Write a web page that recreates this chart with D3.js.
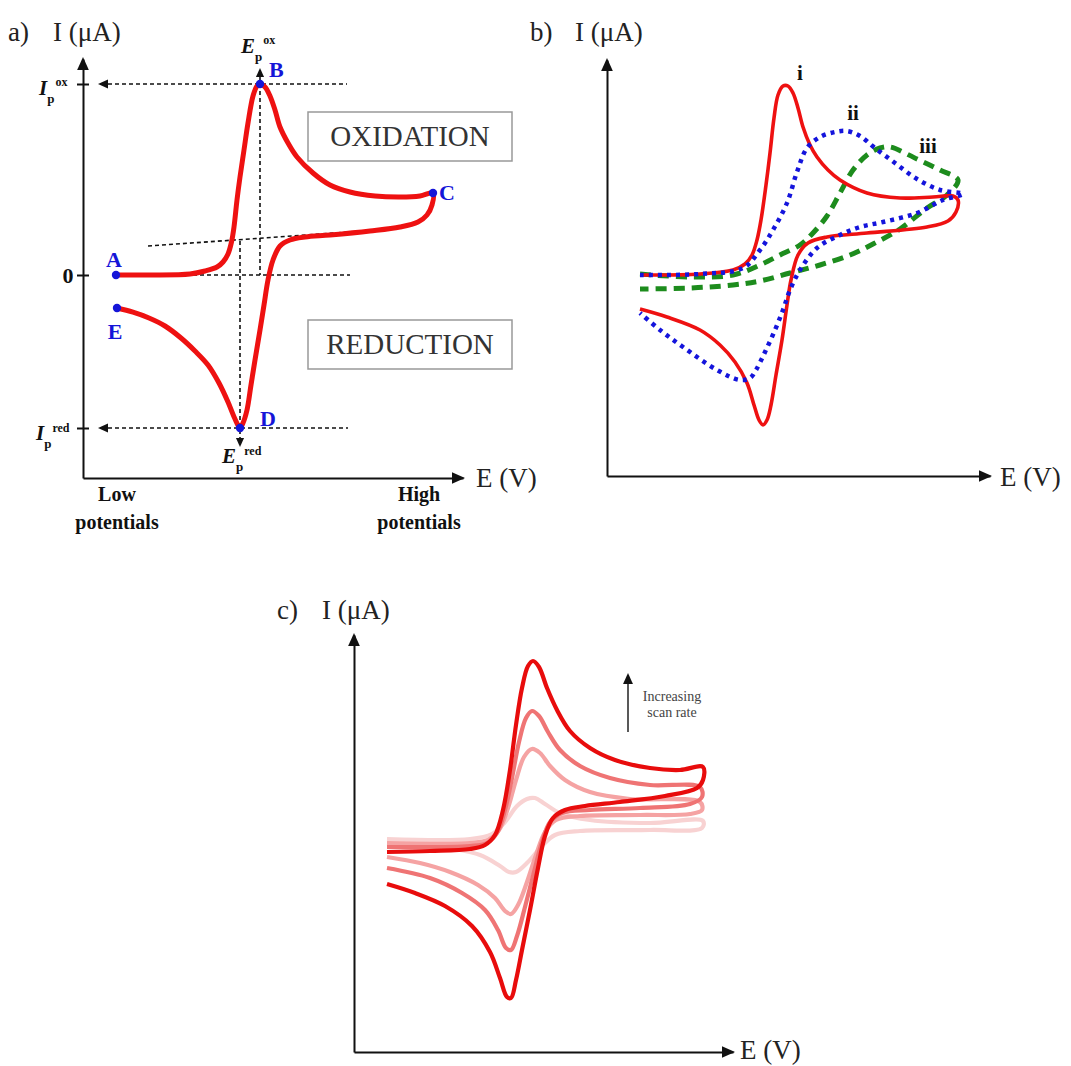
<!doctype html>
<html lang="en">
<head>
<meta charset="utf-8">
<title>Cyclic voltammetry</title>
<script src="https://d3js.org/d3.v7.min.js"></script>
<style>
body { margin: 0; background: #fff; }
svg text { font-family: "Liberation Serif", "Times New Roman", serif; }
.guide { stroke: #111; stroke-width: 1.6; stroke-dasharray: 4 3; fill: none; }
.axis path, .axis line { stroke: #111; stroke-width: 2; }
</style>
</head>
<body>
<div id="chart"></div>
<script>
// all values in arbitrary units (E along the x axis, I along the y axis)

// panel a: one reversible CV, forward scan A -> B -> C, reverse C -> D -> E
var aForward = [[3.3,0],[6.7,0],[10.7,0.1],[12.2,0.4],[13.4,0.8],[14.0,1.3],[14.5,2.1],[14.85,3.3],
  [15.1,4.8],[15.4,7.5],[15.7,9.8],[16.1,12.5],[16.5,15.2],[17.0,17.9],[17.4,18.9],[17.7,19.1],[18.2,18.8],
  [18.7,17.9],[19.2,16.5],[19.7,14.8],[20.5,13.2],[21.4,11.8],[23.0,10.2],[24.7,9.0],[26.7,8.3],
  [29.2,7.9],[31.7,7.8],[33.7,7.9],[35.0,8.2]];
var aReverse = [[34.9,7.0],[34.4,6.0],[33.5,5.3],[31.7,4.8],[28.7,4.4],[24.7,4.0],[22.2,3.8],
  [20.7,3.5],[19.7,2.9],[19.0,1.5],[18.5,-0.5],[18.1,-3.0],[17.7,-5.5],[17.2,-8.5],[16.8,-11.0],
  [16.4,-13.5],[16.0,-14.8],[15.7,-15.3],[15.2,-14.4],[14.5,-12.7],[13.6,-10.8],[12.5,-9.0],
  [11.2,-7.6],[9.8,-6.3],[8.2,-5.1],[6.6,-4.3],[5.0,-3.72],[3.4,-3.3]];
var aPoints = [["A",3.3,0],["B",17.7,19.1],["C",35.0,8.2],["D",15.7,-15.3],["E",3.4,-3.3]];
var ipOx = 19.1, ipRed = -15.3, epOx = 17.7, epRed = 15.7;
var aBaseline = [[6.5,2.9],[26.7,4.3]];
var aTicks = [ipRed, 0, ipOx];

// panel b: three CVs, i reversible, ii quasi-reversible, iii irreversible
var bRev = [[3.3,20.1],[9.3,20.2],[12.6,20.6],[13.8,21.2],[14.5,22.1],[15.0,23.6],[15.4,25.6],
  [15.9,29.1],[16.3,32.3],[16.7,35.8],[17.1,38.1],[17.6,39.0],[18.1,39.0],[18.6,38.3],[19.1,36.8],
  [19.6,34.9],[20.3,33.1],[21.0,31.9],[22.1,30.6],[23.3,29.6],[26.0,28.3],[29.3,27.8],[32.6,27.9],
  [34.6,28.0],[35.1,27.6],[34.9,26.4],[34.1,25.5],[32.0,24.9],[26.0,24.3],[22.0,23.9],[20.1,23.3],
  [19.1,22.1],[18.4,19.6],[18.0,17.1],[17.5,13.6],[16.9,10.1],[16.4,7.1],[16.0,5.6],[15.6,5.1],
  [15.2,5.6],[14.7,7.1],[14.0,9.3],[12.8,11.4],[11.3,13.1],[9.3,14.6],[6.0,15.9],[3.3,16.7]];
var bQuasi = [[3.3,20.1],[9.3,20.2],[13.6,20.8],[15.3,22.6],[16.6,24.6],[18.0,27.3],[19.0,30.4],
  [20.0,32.8],[21.3,33.9],[22.8,34.4],[24.0,34.5],[25.3,34.0],[26.8,32.8],[28.8,31.3],[31.0,29.7],
  [33.3,28.6],[35.6,28.2],[33.6,27.6],[31.0,26.3],[27.6,25.4],[25.3,24.9],[23.3,24.1],[21.0,22.8],
  [19.3,20.6],[18.3,18.6],[17.6,16.6],[16.8,14.6],[15.8,12.4],[14.9,10.6],[14.3,9.8],[13.3,9.6],
  [11.0,10.6],[7.6,12.9],[5.3,14.6],[3.3,16.3]];
var bIrrev = [[3.3,20.2],[8.3,19.9],[12.6,20.1],[15.3,21.1],[17.3,22.1],[19.3,23.1],[20.6,24.3],
  [22.0,26.0],[23.3,28.3],[24.6,30.6],[26.0,32.1],[27.3,32.8],[28.3,32.9],[31.0,31.7],[33.3,30.6],
  [35.1,29.6],[34.0,28.1],[32.0,26.8],[29.3,24.7],[26.6,23.2],[24.3,22.1],[21.3,21.1],[18.3,20.3],
  [15.3,19.5],[12.6,19.1],[8.3,18.8],[3.3,18.7]];
var bLabels = [["i",19.3,39.6],["ii",24.6,35.6],["iii",32.1,32.3]];

// panel c: same CV recorded at four scan rates (slowest first)
var cScan1 = [[3.3,21.3],[11.6,21.3],[13.8,21.8],[15.1,23.0],[16.3,24.6],[17.3,25.3],[18.1,25.4],
  [19.1,24.8],[20.6,23.9],[23.6,23.2],[29.6,22.9],[34.9,23.1],[34.8,22.4],[29.6,22.2],[22.6,22.1],
  [20.1,21.7],[18.8,20.6],[17.4,19.0],[16.2,18.0],[15.5,18.0],[14.6,18.6],[12.6,19.7],[8.6,20.5],[3.3,20.8]];
var cScan2 = [[3.3,20.9],[11.6,20.9],[13.4,21.2],[14.5,22.2],[15.4,24.4],[16.2,27.2],[17.0,29.5],
  [17.8,30.3],[18.6,29.9],[19.6,28.6],[21.1,27.2],[23.6,26.0],[27.6,25.3],[34.6,25.0],[34.8,24.2],
  [33.6,23.8],[28.6,23.7],[22.6,23.6],[20.2,23.2],[19.1,22.0],[18.2,19.7],[17.3,17.0],[16.4,14.7],
  [15.7,13.8],[15.1,14.1],[14.1,15.4],[12.4,16.7],[9.6,18.0],[6.6,18.9],[3.3,19.5]];
var cScan3 = [[3.3,20.5],[11.6,20.6],[13.3,20.9],[14.3,21.9],[15.1,24.2],[15.8,27.4],[16.5,31.0],
  [17.2,33.4],[17.8,34.1],[18.5,33.6],[19.4,32.0],[20.6,30.2],[22.6,28.6],[25.6,27.4],[29.6,26.7],
  [34.6,26.5],[34.8,25.5],[33.6,24.8],[28.6,24.4],[23.6,24.2],[20.8,23.9],[19.6,23.0],[18.8,21.0],
  [18.0,18.0],[17.1,14.5],[16.3,11.6],[15.7,10.2],[15.2,10.4],[14.4,12.2],[13.1,14.2],[10.8,15.9],
  [7.6,17.4],[3.3,18.4]];
var cScan4 = [[3.3,20.0],[7.6,20.1],[11.6,20.3],[13.1,20.7],[14.1,21.7],[14.9,24.2],[15.6,28.2],
  [16.2,32.7],[16.8,36.4],[17.4,38.6],[17.9,39.1],[18.5,38.5],[19.3,36.4],[20.3,34.2],[21.6,32.1],
  [23.6,30.4],[26.1,29.2],[29.6,28.4],[32.6,28.2],[34.9,28.5],[34.9,27.2],[34.3,26.4],[31.1,25.6],
  [26.6,25.0],[23.1,24.6],[21.1,24.2],[19.9,23.4],[19.1,21.6],[18.4,18.4],[17.6,14.2],[16.8,10.2],
  [16.2,7.2],[15.7,5.4],[15.3,5.5],[14.6,7.4],[13.6,10.0],[11.8,12.6],[9.1,14.6],[6.1,15.9],[3.3,16.8]];
var cColors = ["#f8d2d2", "#f5a3a3", "#ef7474", "#e80c0c"];

var svg = d3.select("#chart").append("svg")
    .attr("width", 1071).attr("height", 1066);

function tri(g, x, y, dir, s) {
  // small filled arrow head, tip at (x,y)
  var p;
  if (dir == "up") p = [[x, y], [x - s * 0.45, y + s], [x + s * 0.45, y + s]];
  if (dir == "down") p = [[x, y], [x - s * 0.45, y - s], [x + s * 0.45, y - s]];
  if (dir == "left") p = [[x, y], [x + s, y - s * 0.45], [x + s, y + s * 0.45]];
  if (dir == "right") p = [[x, y], [x - s, y - s * 0.45], [x - s, y + s * 0.45]];
  g.append("path").attr("d", "M" + p.join("L") + "Z").attr("fill", "#111");
}

function axes(g, x, y) {
  var xd = x.domain(), yd = y.domain();
  g.append("g").attr("class", "axis")
    .attr("transform", "translate(0," + y(yd[0]) + ")")
    .call(d3.axisBottom(x).ticks(0).tickSizeOuter(0));
  g.append("g").attr("class", "axis")
    .attr("transform", "translate(" + x(xd[0]) + ",0)")
    .call(d3.axisLeft(y).ticks(0).tickSizeOuter(0));
  tri(g, x(xd[1]) + 2, y(yd[0]), "right", 13);
  tri(g, x(xd[0]), y(yd[1]) - 2, "up", 13);
}

function title(g, letter, xx, yy) {
  g.append("text").attr("x", xx).attr("y", yy).attr("font-size", 27).attr("fill", "#222").text(letter + ")");
  g.append("text").attr("x", xx + 45).attr("y", yy).attr("font-size", 27).attr("fill", "#222").text("I (\u03bcA)");
}

function eLabel(g, xx, yy) {
  g.append("text").attr("x", xx).attr("y", yy).attr("font-size", 27).attr("fill", "#222").text("E (V)");
}

// ---------- panel a ----------
var xA = d3.scaleLinear().domain([0, 38]).range([83, 463]);
var yA = d3.scaleLinear().domain([-20.3, 21.6]).range([478, 59]);
var gA = svg.append("g");
var lineA = d3.line().x(function(d) { return xA(d[0]); }).y(function(d) { return yA(d[1]); })
    .curve(d3.curveCatmullRom.alpha(0.5));
var straightA = d3.line().x(function(d) { return xA(d[0]); }).y(function(d) { return yA(d[1]); });

axes(gA, xA, yA);
var yTickA = gA.append("g").attr("class", "axis")
    .attr("transform", "translate(" + xA(0) + ",0)")
    .call(d3.axisLeft(yA).tickValues(aTicks).tickFormat("").tickSize(6).tickSizeOuter(0));
yTickA.selectAll(".tick line").attr("x1", 6);
yTickA.select(".domain").remove();

// dashed guides
function guide(p) { gA.append("path").attr("class", "guide").attr("d", straightA(p)); }
guide([[2.5, ipOx], [26.4, ipOx]]);
guide([[3.3, 0], [26.7, 0]]);
guide([[2.5, ipRed], [26.5, ipRed]]);
guide(aBaseline);
guide([[epOx, 19.8], [epOx, 0]]);
guide([[epRed, 3.4], [epRed, -16.4]]);
tri(gA, xA(1.5), yA(ipOx), "left", 10);
tri(gA, xA(1.5), yA(ipRed), "left", 10);
tri(gA, xA(epOx), yA(20.7), "up", 9);
tri(gA, xA(epRed), yA(-17.2), "down", 9);

gA.append("path").attr("d", lineA(aForward.concat(aReverse)))
    .attr("fill", "none").attr("stroke", "#ee1111").attr("stroke-width", 5)
    .attr("stroke-linejoin", "round").attr("stroke-linecap", "round");

var ptOff = { A: [-2, -8, "middle"], B: [9, -7, "start"], C: [6, 7, "start"], D: [20, -2, "start"], E: [-2, 31, "middle"] };
aPoints.forEach(function(p) {
  gA.append("circle").attr("cx", xA(p[1])).attr("cy", yA(p[2])).attr("r", 4.2).attr("fill", "#1515d8");
  var o = ptOff[p[0]];
  gA.append("text").attr("x", xA(p[1]) + o[0]).attr("y", yA(p[2]) + o[1])
    .attr("text-anchor", o[2]).attr("font-size", 22).attr("font-weight", "bold")
    .attr("fill", "#1515d8").text(p[0]);
});

// tick labels with sub/superscripts
function peakLabel(g, sym, sub, sup, xx, yy, supDy) {
  var t = g.append("text").attr("x", xx).attr("y", yy).attr("font-weight", "bold").attr("fill", "#111");
  t.append("tspan").attr("font-size", 21).attr("font-style", "italic").text(sym);
  t.append("tspan").attr("font-size", 13).attr("dy", 8).text(sub);
  t.append("tspan").attr("font-size", 12).attr("dx", 1).attr("dy", supDy).text(sup);
}
peakLabel(gA, "I", "p", "ox", xA(0) - 44, yA(ipOx) + 11, -17);
peakLabel(gA, "I", "p", "red", xA(0) - 47, yA(ipRed) + 12, -16);
peakLabel(gA, "E", "p", "ox", xA(epOx) - 19, yA(20.7) - 15, -17);
peakLabel(gA, "E", "p", "red", xA(epRed) - 18, yA(-17.2) + 16, -16);
gA.append("text").attr("x", xA(0) - 15).attr("y", yA(0) + 8).attr("text-anchor", "middle")
  .attr("font-size", 22).attr("font-weight", "bold").attr("fill", "#111").text("0");

// boxes
[["OXIDATION", 112], ["REDUCTION", 320]].forEach(function(b) {
  gA.append("rect").attr("x", 308).attr("y", b[1]).attr("width", 204).attr("height", 49)
    .attr("fill", "#fff").attr("stroke", "#999").attr("stroke-width", 1.5);
  gA.append("text").attr("x", 410).attr("y", b[1] + 34).attr("text-anchor", "middle")
    .attr("font-size", 29).attr("fill", "#333").text(b[0]);
});

[["Low", 117], ["High", 419]].forEach(function(l) {
  gA.append("text").attr("x", l[1]).attr("y", 501).attr("text-anchor", "middle")
    .attr("font-size", 20).attr("font-weight", "bold").attr("fill", "#111").text(l[0]);
  gA.append("text").attr("x", l[1]).attr("y", 529).attr("text-anchor", "middle")
    .attr("font-size", 20).attr("font-weight", "bold").attr("fill", "#111").text("potentials");
});
title(gA, "a", 8, 41);
eLabel(gA, 476, 487);

// ---------- panel b ----------
var xB = d3.scaleLinear().domain([0, 38.3]).range([607, 990]);
var yB = d3.scaleLinear().domain([0, 41.6]).range([476, 60]);
var gB = svg.append("g");
var lineB = d3.line().x(function(d) { return xB(d[0]); }).y(function(d) { return yB(d[1]); })
    .curve(d3.curveCatmullRom.alpha(0.5));
axes(gB, xB, yB);

gB.append("path").attr("d", lineB(bIrrev)).attr("fill", "none")
  .attr("stroke", "#1d8c1d").attr("stroke-width", 5).attr("stroke-dasharray", "11 7");
gB.append("path").attr("d", lineB(bRev)).attr("fill", "none")
  .attr("stroke", "#ee1111").attr("stroke-width", 3.6).attr("stroke-linejoin", "round");
gB.append("path").attr("d", lineB(bQuasi)).attr("fill", "none")
  .attr("stroke", "#1414dc").attr("stroke-width", 4.5).attr("stroke-dasharray", "4 5");

bLabels.forEach(function(l) {
  gB.append("text").attr("x", xB(l[1])).attr("y", yB(l[2])).attr("text-anchor", "middle")
    .attr("font-size", 21).attr("font-weight", "bold").attr("fill", "#111").text(l[0]);
});
title(gB, "b", 530, 41);
eLabel(gB, 1000, 486);

// ---------- panel c ----------
var xC = d3.scaleLinear().domain([0, 37.9]).range([354, 733]);
var yC = d3.scaleLinear().domain([0, 41.7]).range([1052, 635]);
var gC = svg.append("g");
var lineC = d3.line().x(function(d) { return xC(d[0]); }).y(function(d) { return yC(d[1]); })
    .curve(d3.curveCatmullRom.alpha(0.5));
axes(gC, xC, yC);

[cScan1, cScan2, cScan3, cScan4].forEach(function(s, i) {
  gC.append("path").attr("d", lineC(s)).attr("fill", "none")
    .attr("stroke", cColors[i]).attr("stroke-width", 4.2).attr("stroke-linejoin", "round");
});

gC.append("line").attr("x1", 628).attr("x2", 628).attr("y1", 732).attr("y2", 682)
  .attr("stroke", "#222").attr("stroke-width", 1.5);
tri(gC, 628, 673, "up", 11);
gC.append("text").attr("x", 672).attr("y", 701).attr("text-anchor", "middle")
  .attr("font-size", 14).attr("fill", "#444").text("Increasing");
gC.append("text").attr("x", 672).attr("y", 717).attr("text-anchor", "middle")
  .attr("font-size", 14).attr("fill", "#444").text("scan rate");
title(gC, "c", 277, 619);
eLabel(gC, 740, 1059);
</script>
</body>
</html>
